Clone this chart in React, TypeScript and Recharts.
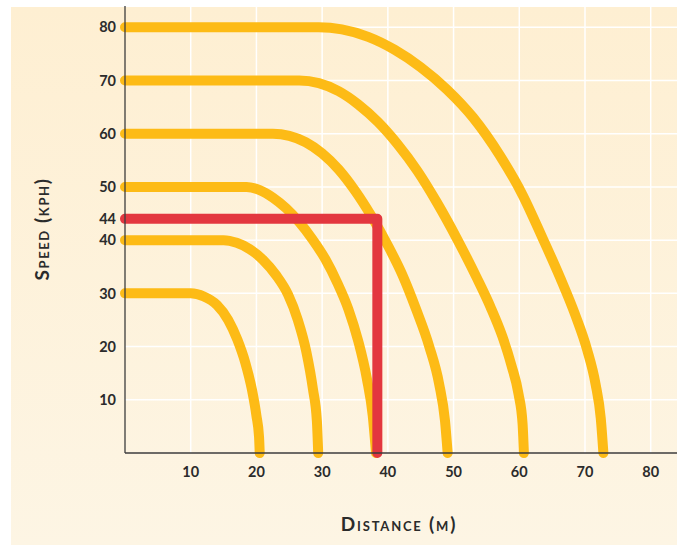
import { LineChart, Line, XAxis, YAxis, CartesianGrid } from "recharts";

// stopping curves, [distance (m), speed (kph)]
const curve30: [number, number][] = [
  [0, 30], [10, 30], [12, 29.4], [14, 27.8], [15.7, 25], [17.1, 21.3], [18.3, 17], [19.3, 12], [20, 7], [20.4, 3], [20.5, 0],
];
const curve40: [number, number][] = [
  [0, 40], [15, 40], [17, 39.5], [19, 38.3], [21, 36.3], [23, 33.4], [24.8, 29.8], [26.3, 25], [27.6, 19], [28.6, 12], [29.2, 6], [29.4, 0],
];
const curve50: [number, number][] = [
  [0, 50], [18.5, 50], [20.5, 49.4], [22.5, 48], [24.5, 46], [26.5, 43.4], [28.5, 40.2], [30.5, 36.4], [32.3, 32], [34, 27], [35.5, 21], [36.8, 14], [37.7, 7], [38.2, 0],
];
const curve60: [number, number][] = [
  [0, 60], [22.5, 60], [25, 59.6], [27.5, 58.4], [30, 56.3], [32.5, 53.3], [35, 49.3], [37.5, 44.5], [40, 39], [42.2, 33.5], [44.3, 27], [46.3, 20], [47.8, 13], [48.7, 6], [49.1, 0],
];
const curve70: [number, number][] = [
  [0, 70], [26.5, 70], [29.5, 69.5], [32.5, 68], [35.5, 65.5], [38.5, 62.2], [41.5, 58], [44.5, 53], [47.5, 47], [50.5, 40.3], [53.5, 33], [55.6, 27.5], [57.4, 22], [58.8, 16.5], [59.9, 11], [60.5, 5.5], [60.7, 0],
];
const curve80: [number, number][] = [
  [0, 80], [29.5, 80], [33, 79.6], [37, 78.2], [41, 75.8], [45, 72.5], [49, 68.3], [53, 63], [57, 56], [60.5, 48.5], [63.5, 40.5], [66.2, 33], [68.5, 26], [70.3, 19.5], [71.6, 13], [72.4, 6.5], [72.8, 0],
];
const marker44: [number, number][] = [[0, 44], [38.4, 44], [38.4, 0]];

const xTicks = [10, 20, 30, 40, 50, 60, 70, 80];
const yTicks = [10, 20, 30, 40, 44, 50, 60, 70, 80];
const gridY = [10, 20, 30, 40, 50, 60, 70, 80];

const toRows = (pts: [number, number][]) => pts.map(([x, y]) => ({ x, y }));

const YELLOW = "#FDBB16";
const RED = "#E3373F";
const INK = "#2b2b2b";
const FONT = "Lato, 'Open Sans', sans-serif";

const tickStyle = { fill: INK, fontSize: 14.5, fontWeight: 700, fontFamily: FONT };

export default function App() {
  const curves = [curve30, curve40, curve50, curve60, curve70, curve80];
  return (
    <div style={{ position: "absolute", left: 0, top: 0, width: 677, height: 545, background: "#fff" }}>
      {/* cream panel */}
      <div
        style={{
          position: "absolute",
          left: 11,
          top: 7,
          right: 0,
          bottom: 0,
          background: "linear-gradient(#FEEFD2, #FDF5E4)",
        }}
      />
      <div style={{ position: "absolute", left: 0, top: 0 }}>
        <LineChart width={677} height={545} margin={{ top: 6, right: 0, bottom: 62, left: 0 }}>
          <CartesianGrid
            stroke="#ffffff"
            strokeWidth={1.5}
            horizontalValues={gridY}
            verticalValues={xTicks}
          />
          <XAxis
            type="number"
            dataKey="x"
            domain={[0, 84]}
            ticks={xTicks}
            interval={0}
            height={30}
            tickLine={false}
            tickSize={6}
            tickMargin={8}
            axisLine={{ stroke: "#3d3d3d", strokeWidth: 1.3 }}
            tick={tickStyle}
          />
          <YAxis
            type="number"
            dataKey="y"
            domain={[0, 84]}
            ticks={yTicks}
            interval={0}
            width={125}
            tickLine={false}
            tickSize={6}
            tickMargin={3}
            axisLine={{ stroke: "#3d3d3d", strokeWidth: 1.3 }}
            tick={tickStyle}
          />
          {curves.map((c, i) => (
            <Line
              key={i}
              data={toRows(c)}
              dataKey="y"
              type="monotone"
              stroke={YELLOW}
              strokeWidth={10}
              strokeLinecap="round"
              strokeLinejoin="round"
              dot={false}
              activeDot={false}
              isAnimationActive={false}
            />
          ))}
          <Line
            data={toRows(marker44)}
            dataKey="y"
            type="linear"
            stroke={RED}
            strokeWidth={10}
            strokeLinecap="round"
            strokeLinejoin="round"
            dot={false}
            activeDot={false}
            isAnimationActive={false}
          />
        </LineChart>
      </div>
      {/* axis titles */}
      <div
        style={{
          position: "absolute",
          left: 41,
          top: 229,
          transform: "translate(-50%, -50%) rotate(-90deg)",
          whiteSpace: "nowrap",
          fontFamily: FONT,
          fontWeight: 700,
          fontSize: 19,
          fontVariant: "small-caps",
          letterSpacing: 1.6,
          color: INK,
        }}
      >
        Speed (kph)
      </div>
      <div
        style={{
          position: "absolute",
          left: 399,
          top: 523,
          transform: "translate(-50%, -50%)",
          whiteSpace: "nowrap",
          fontFamily: FONT,
          fontWeight: 700,
          fontSize: 19,
          fontVariant: "small-caps",
          letterSpacing: 1.8,
          color: INK,
        }}
      >
        Distance (m)
      </div>
    </div>
  );
}
